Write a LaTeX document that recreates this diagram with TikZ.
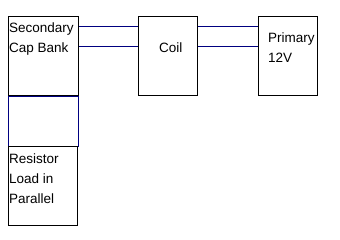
\documentclass[tikz,border=0pt]{standalone}
\usepackage{fontspec}
\setmainfont{Liberation Sans}
\definecolor{wireblue}{RGB}{0,0,128}

\tikzset{
  box/.style={draw, line width=1pt, inner sep=0pt, anchor=north west},
  lbl/.style={inner sep=0pt, anchor=north west, align=left,
    font=\fontsize{13.5}{20}\selectfont},
  wire/.style={draw=wireblue, line width=1pt}
}

\begin{document}
\begin{tikzpicture}[x=1pt,y=-1pt]
\useasboundingbox (0,0) rectangle (340,239);

%les boites
\node[box, minimum width=70pt, minimum height=79pt] (sec) at (8,16) {};
\node[box, draw=wireblue, minimum width=70pt, minimum height=50pt] (blk) at (8,96) {};
\node[box, minimum width=69pt, minimum height=79pt] (res) at (8,146) {};
\node[box, minimum width=59pt, minimum height=79pt] (coil) at (138,16) {};
\node[box, minimum width=59pt, minimum height=79pt] (prim) at (258,16) {};

%les textes
\node[lbl] (sectxt) at ([shift={(1,6.5)}]sec.north west) {Secondary\\Cap Bank};
\node[lbl] (coiltxt) at ([shift={(21,26.5)}]coil.north west) {Coil};
\node[lbl] (primtxt) at ([shift={(10,16.5)}]prim.north west) {Primary\\12V};
\node[lbl] (restxt) at ([shift={(1,7.5)}]res.north west) {Resistor\\Load in\\Parallel};

%les fils
\draw[wire] ([yshift=-10pt]sec.north east) -- ([yshift=-10pt]coil.north west);
\draw[wire] ([yshift=-30pt]sec.north east) -- ([yshift=-30pt]coil.north west);
\draw[wire] ([yshift=-10pt]coil.north east) -- ([yshift=-10pt]prim.north west);
\draw[wire] ([yshift=-30pt]coil.north east) -- ([yshift=-30pt]prim.north west);

\end{tikzpicture}
\end{document}
